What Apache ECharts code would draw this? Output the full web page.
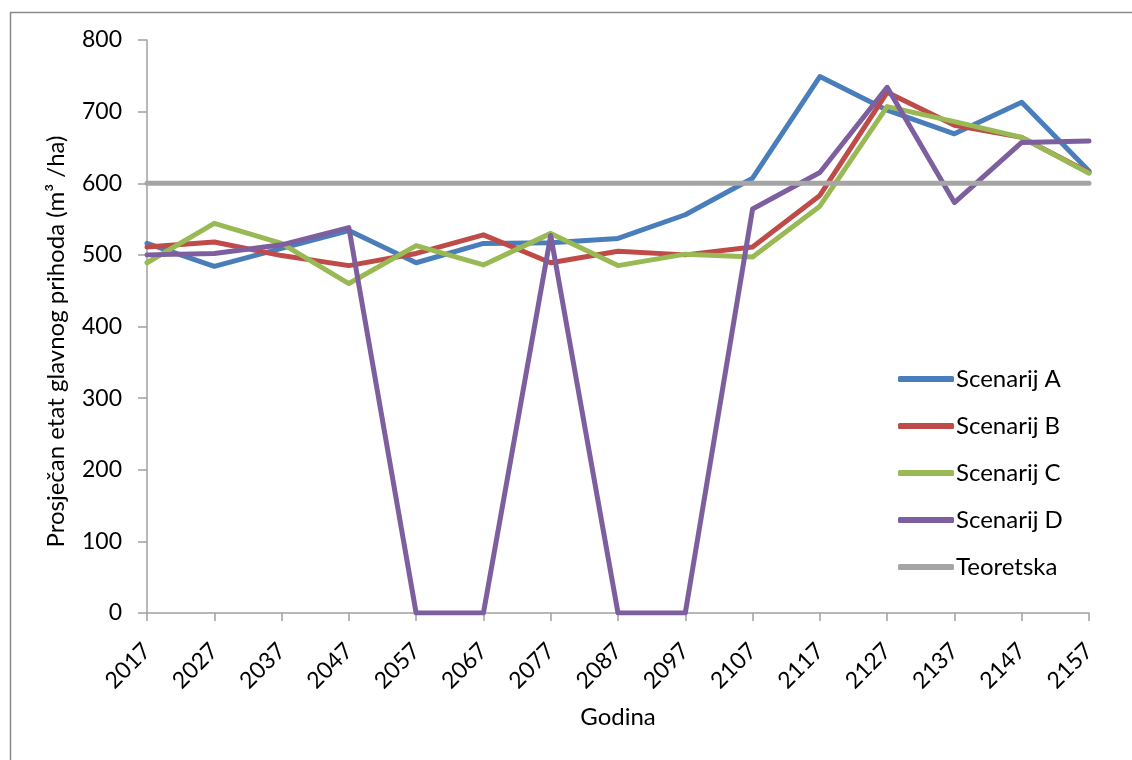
<!DOCTYPE html>
<html>
<head>
<meta charset="utf-8">
<script src="https://cdn.jsdelivr.net/npm/echarts@6/dist/echarts.min.js"></script>
<style>html,body{margin:0;padding:0;background:#fff;}#c{width:1132px;height:760px;}</style>
</head>
<body>
<div id="c"></div>
<script>
const years = ['2017','2027','2037','2047','2057','2067','2077','2087','2097','2107','2117','2127','2137','2147','2157'];
const scenA = [516, 484, 509, 534, 489, 516, 517, 523, 556, 607, 749, 702, 669, 713, 617];
const scenB = [511, 518, 499, 485, 502, 528, 489, 505, 500, 511, 583, 727, 681, 664, 615];
const scenC = [489, 544, 516, 460, 513, 486, 530, 485, 501, 497, 568, 707, 686, 664, 614];
const scenD = [500, 502, 514, 538, 0, 0, 527, 0, 0, 564, 615, 734, 573, 657, 659];
const teoretska = [600, 600, 600, 600, 600, 600, 600, 600, 600, 600, 600, 600, 600, 600, 600];
const seriesNames = ['Scenarij A', 'Scenarij B', 'Scenarij C', 'Scenarij D', 'Teoretska'];
const seriesColors = ['#4a7ebb', '#be4b48', '#98b954', '#7d5fa0', '#a5a5a5'];
const seriesData = [scenA, scenB, scenC, scenD, teoretska];

const FONT = 'Lato';
const chart = echarts.init(document.getElementById('c'));
chart.setOption({
  animation: false,
  backgroundColor: '#fff',
  textStyle: { fontFamily: FONT, color: '#000' },
  graphic: [{
    type: 'rect', left: 8, top: 10, z: -1,
    shape: { width: 1200, height: 800 },
    style: { fill: 'none', stroke: '#8a8a8a', lineWidth: 1.5 }
  }],
  grid: { left: 147, right: 43, top: 40, bottom: 147 },
  legend: {
    orient: 'vertical', left: 893, top: 361,
    itemWidth: 56, itemHeight: 6, itemGap: 21,
    icon: 'roundRect',
    data: seriesNames,
    textStyle: { fontFamily: FONT, fontSize: 24, color: '#000', lineHeight: 26, padding: [0, 0, 0, -3] }
  },
  xAxis: {
    type: 'category', data: years, boundaryGap: false,
    name: 'Godina', nameLocation: 'middle', nameGap: 92,
    nameTextStyle: { fontFamily: FONT, fontSize: 24, color: '#000' },
    axisLine: { lineStyle: { color: '#a0a0a0', width: 1.5 } },
    axisTick: { show: true, length: 8, alignWithLabel: true, lineStyle: { color: '#a0a0a0', width: 1.5 } },
    axisLabel: { rotate: 45, fontFamily: FONT, fontSize: 23, color: '#000', margin: 34, interval: 0 },
    splitLine: { show: false }
  },
  yAxis: {
    type: 'value', min: 0, max: 800, interval: 100,
    name: 'Prosječan etat glavnog prihoda (m³ /ha)', nameLocation: 'middle', nameGap: 79,
    nameTextStyle: { fontFamily: FONT, fontSize: 24, color: '#000', padding: [0, 30, 0, 0] },
    axisLine: { show: true, lineStyle: { color: '#a0a0a0', width: 1.5 } },
    axisTick: { show: true, length: 9, lineStyle: { color: '#a0a0a0', width: 1.5 } },
    axisLabel: { fontFamily: FONT, fontSize: 23, color: '#000', margin: 25 },
    splitLine: { show: false }
  },
  series: seriesNames.map((n, i) => ({
    name: n, type: 'line', data: seriesData[i],
    symbol: 'none', color: seriesColors[i],
    lineStyle: { width: 5, color: seriesColors[i], cap: 'round', join: 'round' }
  }))
});
</script>
</body>
</html>
